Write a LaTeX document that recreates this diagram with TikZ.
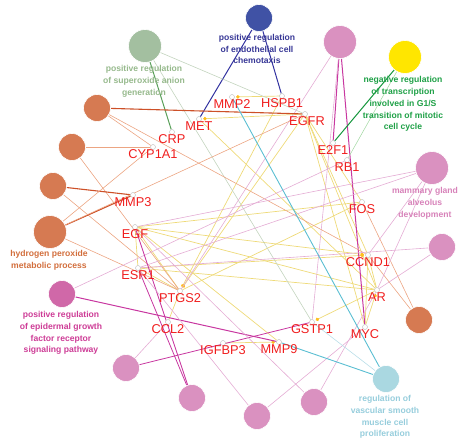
\documentclass[tikz,border=0pt]{standalone}
\usepackage{fontspec}
\setmainfont{Liberation Sans}
\usepackage{tikz}
\usetikzlibrary{arrows.meta}

\definecolor{gobl}{RGB}{64,82,165}
\definecolor{gobltx}{RGB}{55,55,150}
\definecolor{gosage}{RGB}{163,191,160}
\definecolor{gosagetx}{RGB}{150,185,140}
\definecolor{gopink}{RGB}{218,145,192}
\definecolor{gopinktx}{RGB}{215,130,185}
\definecolor{goyel}{RGB}{255,230,0}
\definecolor{gogrtx}{RGB}{30,160,70}
\definecolor{goor}{RGB}{214,122,82}
\definecolor{goortx}{RGB}{210,110,60}
\definecolor{gomag}{RGB}{208,104,168}
\definecolor{gomagtx}{RGB}{205,60,150}
\definecolor{golb}{RGB}{170,216,225}
\definecolor{golbtx}{RGB}{150,205,220}
\definecolor{genered}{RGB}{240,30,30}
\definecolor{ppi}{RGB}{238,218,120}
\definecolor{dotc}{RGB}{255,190,30}

\pgfdeclarelayer{bg}
\pgfsetlayers{bg,main}

\begin{document}
\begin{tikzpicture}[x=1pt,y=-1pt]
\tikzstyle{term}=[circle,draw=white,line width=0.6pt,minimum size=27pt,inner sep=0pt]
\tikzstyle{big}=[minimum size=33pt]
\tikzstyle{gene}=[circle,draw=gray!55,fill=white,line width=0.4pt,minimum size=5pt,inner sep=0pt,label distance=4pt]
\tikzstyle{every label}=[text=genered,font=\fontsize{12.8}{14}\selectfont,inner sep=0pt,outer sep=0pt]
\tikzstyle{golab}=[align=center,inner sep=0pt,font=\fontsize{8.6}{11.8}\selectfont\bfseries]
\tikzstyle{ebl}=[draw={rgb,255:red,50;green,50;blue,160},line width=1pt]
\tikzstyle{esage}=[draw={rgb,255:red,90;green,160;blue,90},line width=1pt]
\tikzstyle{esagel}=[draw={rgb,255:red,195;green,212;blue,190},line width=0.6pt]
\tikzstyle{emag}=[draw={rgb,255:red,200;green,55;blue,160},line width=1pt]
\tikzstyle{epk}=[draw={rgb,255:red,228;green,172;blue,212},line width=0.6pt]
\tikzstyle{egr}=[draw={rgb,255:red,20;green,150;blue,60},line width=1pt]
\tikzstyle{egrl}=[draw={rgb,255:red,160;green,215;blue,160},line width=0.5pt]
\tikzstyle{eor}=[draw={rgb,255:red,205;green,80;blue,40},line width=1.1pt]
\tikzstyle{eorl}=[draw={rgb,255:red,236;green,165;blue,130},line width=0.6pt]
\tikzstyle{elb}=[draw={rgb,255:red,90;green,190;blue,210},line width=0.9pt]
\tikzstyle{elbl}=[draw={rgb,255:red,185;green,222;blue,232},line width=0.6pt]
\tikzstyle{eppi}=[draw=ppi,line width=0.7pt]
\tikzstyle{hit}=[{Circle[length=3.5pt,color=dotc]}-,shorten <=1.5pt]

\useasboundingbox (0,0) rectangle (461,443);

% GO terms
\node[term,fill=gobl] (chemo) at (259,18) {};
\node[term,big,fill=gosage] (sup) at (145,46) {};
\node[term,big,fill=gopink] (ptop) at (340,42) {};
\node[term,big,fill=goyel] (g1s) at (405,57) {};
\node[term,fill=goor] (or1) at (97,108) {};
\node[term,fill=goor] (or2) at (72,147) {};
\node[term,fill=goor] (or3) at (53,186) {};
\node[term,big,fill=goor] (hpm) at (50,232) {};
\node[term,big,fill=gopink] (mam) at (432,168) {};
\node[term,fill=gopink] (pr2) at (442,247) {};
\node[term,fill=goor] (orr) at (419,320) {};
\node[term,fill=gomag] (egfrsig) at (62,294) {};
\node[term,fill=gopink] (pb1) at (126,368) {};
\node[term,fill=gopink] (pb2) at (192,398) {};
\node[term,fill=gopink] (pb3) at (257,416) {};
\node[term,fill=gopink] (pb4) at (314,402) {};
\node[term,fill=golb] (vsm) at (386,379) {};

\node[golab,text=gobltx] (chemoL) at (257,49) {positive regulation\\of endothelial cell\\chemotaxis};
\node[golab,text=gosagetx] (supL) at (144,81) {positive regulation\\of superoxide anion\\generation};
\node[golab,text=gogrtx] (g1sL) at (403,104) {negative regulation\\of transcription\\involved in G1/S\\transition of mitotic\\cell cycle};
\node[golab,text=goortx] (hpmL) at (49,260) {hydrogen peroxide\\metabolic process};
\node[golab,text=gopinktx] (mamL) at (425,203) {mammary gland\\alveolus\\development};
\node[golab,text=gomagtx] (egfrsigL) at (61,333) {positive regulation\\of epidermal growth\\factor receptor\\signaling pathway};
\node[golab,text=golbtx] (vsmL) at (385,417) {regulation of\\vascular smooth\\muscle cell\\proliferation};

% genes
\node[gene,label=below:MMP2] (MMP2) at (232,97) {};
\node[gene,label=below:HSPB1] (HSPB1) at (282,96) {};
\node[gene,label=below:MET] (MET) at (199,119) {};
\node[gene,label={[xshift=2pt]below:EGFR}] (EGFR) at (305,114) {};
\node[gene,label=below:CRP] (CRP) at (172,132) {};
\node[gene,label=below:CYP1A1] (CYP1A1) at (153,147) {};
\node[gene,label=below:E2F1] (E2F1) at (333,143) {};
\node[gene,label=below:RB1] (RB1) at (347,160) {};
\node[gene,label=below:FOS] (FOS) at (362,202) {};
\node[gene,label=below:MMP3] (MMP3) at (133,195) {};
\node[gene,label=below:EGF] (EGF) at (135,227) {};
\node[gene,label=below:ESR1] (ESR1) at (138,268) {};
\node[gene,label=below:PTGS2] (PTGS2) at (180,291) {};
\node[gene,label=below:CCL2] (CCL2) at (168,322) {};
\node[gene,label=below:IGFBP3] (IGFBP3) at (223,343) {};
\node[gene,label=below:MMP9] (MMP9) at (279,342) {};
\node[gene,label=below:GSTP1] (GSTP1) at (312,322) {};
\node[gene,label=below:CCND1] (CCND1) at (368,255) {};
\node[gene,label=below:AR] (AR) at (377,290) {};
\node[gene,label=below:MYC] (MYC) at (365,327) {};

\begin{pgfonlayer}{bg}
% gene to gene
\path[eppi] (MMP2) edge[hit] (HSPB1)
          (MET) edge[hit] (EGFR)
          (MET) edge (AR)
          (EGFR) edge (FOS) edge (AR) edge (MYC) edge (CCND1)
          (PTGS2) edge[hit] (EGFR) edge[hit] (HSPB1) edge (CCL2) edge (FOS)
          (EGF) edge (ESR1) edge (PTGS2) edge (FOS) edge (AR) edge (MMP9)
          (ESR1) edge (PTGS2) edge (AR)
          (CCND1) edge[hit] (ESR1) edge[hit] (EGF) edge (AR) edge (MYC)
          (AR) edge[hit] (MYC)
          (GSTP1) edge[hit] (AR)
          (MMP9) edge[hit] (IGFBP3);
% term to gene
\path[ebl] (chemo) edge (MET) edge (HSPB1);
\path (sup) edge[esage] (CRP) edge[esagel] (EGFR) edge[esagel] (GSTP1);
\path (ptop) edge[emag] (E2F1) edge[emag] (MYC) edge[epk] (PTGS2) edge[epk] (GSTP1);
\path (g1s) edge[egr] (E2F1) edge[egrl] (RB1);
\path (or1) edge[eor] (EGFR) edge[eorl] (CYP1A1) edge[eorl] (CCND1);
\path[eorl] (or2) edge (CYP1A1) edge (PTGS2);
\path (or3) edge[eor] (MMP3) edge[eorl] (PTGS2);
\path (hpm) edge[eor] (MMP3) edge[eorl] (CYP1A1) edge[eorl] (EGFR) edge[eorl] (PTGS2);
\path[eorl] (orr) edge (FOS) edge (CCND1);
\path (egfrsig) edge[emag] (MMP9) edge[epk] (RB1);
\path[epk] (mam) edge (EGF) edge (ESR1) edge (CCND1) edge (AR);
\path[epk] (pr2) edge (ESR1) edge (AR);
\path (pb1) edge[emag,line width=0.8pt] (GSTP1) edge[epk] (CCL2);
\path[emag,line width=0.8pt] (pb2) edge (ESR1) edge (EGF);
\path[epk] (pb3) edge (ESR1) edge (MYC);
\path[epk] (pb4) edge (EGF) edge (AR);
\path (vsm) edge[elb] (MMP2) edge[elb] (MMP9) edge[elbl] (GSTP1);
\end{pgfonlayer}
\end{tikzpicture}
\end{document}
